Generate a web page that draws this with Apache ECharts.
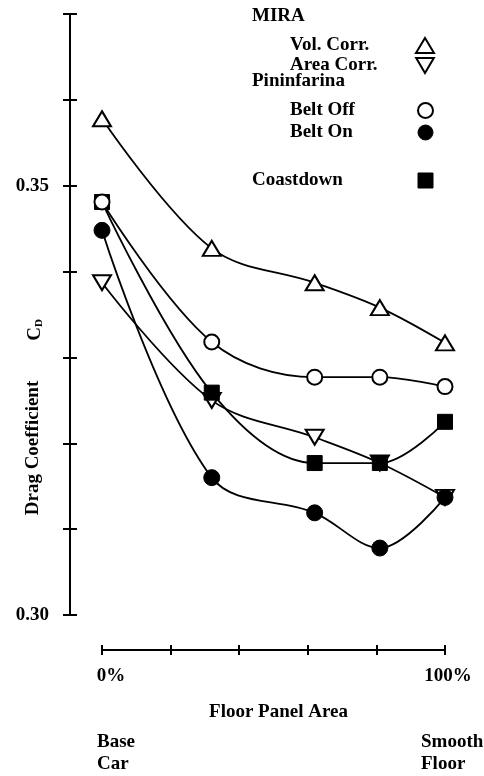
<!DOCTYPE html>
<html>
<head>
<meta charset="utf-8">
<script src="https://cdn.jsdelivr.net/npm/echarts@6/dist/echarts.min.js"></script>
<style>
html,body{margin:0;padding:0;background:#fff;}
#c{width:484px;height:776px;}
</style>
</head>
<body>
<div id="c"></div>
<script>
// ---- data ----
const floorPanelPct = [0, 32, 62, 81, 100];
const miraVolCorr = [0.3578, 0.3427, 0.3387, 0.3358, 0.3317];
const miraAreaCorr = [0.3387, 0.3250, 0.3207, 0.3177, 0.3137];
const pininBeltOff = [0.3481, 0.3318, 0.3277, 0.3277, 0.3266];
const pininBeltOn = [0.3448, 0.3160, 0.3119, 0.3078, 0.3137];
const coastdown = [0.3481, 0.3259, 0.3177, 0.3177, 0.3225];
const yTickLabels = ['0.30', '0.35'];
const xTickLabels = { 0: '0%', 100: '100%' };

const FONT = '"Liberation Serif", "DejaVu Serif", serif';
const FS = 19;
const pairs = arr => floorPanelPct.map((x, i) => [x, arr[i]]);
const downTri = 'path://M0,0 L20,0 L10,17 Z';

const chart = echarts.init(document.getElementById('c'), null, { renderer: 'canvas' });

const lineBase = {
  type: 'line',
  smooth: 0.35,
  lineStyle: { color: '#000', width: 1.8 },
  emphasis: { disabled: true },
  silent: true
};
const openStyle = { color: '#fff', borderColor: '#000', borderWidth: 2 };
const fillStyle = { color: '#000', borderColor: '#000', borderWidth: 1 };

function legendTextStyle(w) {
  return {
    color: '#000',
    rich: { t: { fontFamily: FONT, fontWeight: 'bold', fontSize: FS, color: '#000', width: w, align: 'left', lineHeight: 20 } }
  };
}
const legendFmt = name => '{t|' + name + '}';
const axisLineStyle = { color: '#000', width: 2 };

const option = {
  backgroundColor: '#fff',
  animation: false,
  grid: { left: 102, right: 39, top: 14, bottom: 161 },
  xAxis: [
    {
      type: 'value', min: 0, max: 100, interval: 20, offset: 35, position: 'bottom',
      axisLine: { onZero: false, lineStyle: axisLineStyle },
      axisTick: { show: true, inside: false, length: 5, lineStyle: axisLineStyle },
      splitLine: { show: false },
      axisLabel: {
        margin: 17,
        formatter: v => xTickLabels[v] !== undefined ? (v === 0 ? '{a|' + xTickLabels[v] + '}' : '{b|' + xTickLabels[v] + '}') : '',
        rich: {
          a: { fontFamily: FONT, fontWeight: 'bold', fontSize: FS, color: '#000', padding: [0, 0, 0, 18] },
          b: { fontFamily: FONT, fontWeight: 'bold', fontSize: FS, color: '#000', padding: [0, 0, 0, 6] }
        }
      },
      name: 'Floor Panel Area', nameLocation: 'middle', nameGap: 53,
      nameTextStyle: { fontFamily: FONT, fontWeight: 'bold', fontSize: FS, color: '#000', padding: [0, 0, 0, 10] }
    },
    {
      type: 'value', min: 0, max: 100, interval: 20, offset: 35, position: 'bottom',
      axisLine: { show: true, onZero: false, lineStyle: axisLineStyle },
      axisTick: { show: true, inside: true, length: 5, lineStyle: axisLineStyle },
      splitLine: { show: false },
      axisLabel: { show: false }
    }
  ],
  yAxis: [
    {
      type: 'value', min: 0.30, max: 0.37, interval: 0.01, offset: 32, position: 'left',
      axisLine: { show: true, onZero: false, lineStyle: axisLineStyle },
      axisTick: { show: true, inside: false, length: 7, lineStyle: axisLineStyle },
      splitLine: { show: false },
      axisLabel: {
        margin: 21,
        fontFamily: FONT, fontWeight: 'bold', fontSize: FS, color: '#000',
        formatter: v => { const s = v.toFixed(2); return yTickLabels.indexOf(s) >= 0 ? s : ''; }
      }
    },
    {
      type: 'value', min: 0.30, max: 0.37, interval: 0.01, offset: 32, position: 'left',
      axisLine: { show: true, onZero: false, lineStyle: axisLineStyle },
      axisTick: { show: true, inside: true, length: 7, lineStyle: axisLineStyle },
      splitLine: { show: false },
      axisLabel: { show: false }
    }
  ],
  legend: [
    {
      left: 290, top: 36, orient: 'vertical', align: 'right', itemGap: 1, padding: 0,
      itemWidth: 18, itemHeight: 15, selectedMode: false,
      formatter: legendFmt, textStyle: legendTextStyle(121),
      data: [
        { name: 'Vol. Corr.', icon: 'triangle', itemStyle: openStyle },
        { name: 'Area Corr.', icon: downTri, itemStyle: openStyle }
      ]
    },
    {
      left: 290, top: 101, orient: 'vertical', align: 'right', itemGap: 3, padding: 0,
      itemWidth: 15, itemHeight: 15, selectedMode: false,
      formatter: legendFmt, textStyle: legendTextStyle(123),
      data: [
        { name: 'Belt Off', icon: 'circle', itemStyle: openStyle },
        { name: 'Belt On', icon: 'circle', itemStyle: fillStyle }
      ]
    },
    {
      left: 252, top: 171, orient: 'vertical', align: 'right', itemGap: 0, padding: 0,
      itemWidth: 15, itemHeight: 15, selectedMode: false,
      formatter: legendFmt, textStyle: legendTextStyle(161),
      data: [
        { name: 'Coastdown', icon: 'rect', itemStyle: fillStyle }
      ]
    }
  ],
  graphic: [
    { type: 'text', left: 252, top: 7, style: { text: 'MIRA', font: 'bold ' + FS + 'px ' + FONT, fill: '#000' } },
    { type: 'text', left: 252, top: 72, style: { text: 'Pininfarina', font: 'bold ' + FS + 'px ' + FONT, fill: '#000' } },
    { type: 'text', left: 97, top: 731, style: { text: 'Base\nCar', font: 'bold ' + FS + 'px ' + FONT, fill: '#000', lineHeight: 22 } },
    { type: 'text', left: 421, top: 731, style: { text: 'Smooth\nFloor', font: 'bold ' + FS + 'px ' + FONT, fill: '#000', lineHeight: 22 } },
    {
      type: 'text', x: 33, y: 448, rotation: Math.PI / 2,
      style: { text: 'Drag Coefficient', font: 'bold 19px ' + FONT, fill: '#000', align: 'center', verticalAlign: 'middle' }
    },
    {
      type: 'text', x: 35, y: 330, rotation: Math.PI / 2,
      style: {
        text: '{c|C}{d|D}', align: 'center', verticalAlign: 'middle',
        rich: {
          c: { font: 'bold 19px ' + FONT, fill: '#000' },
          d: { font: 'bold 11px ' + FONT, fill: '#000', padding: [8, 0, 0, 0] }
        }
      }
    }
  ],
  series: [
    Object.assign({}, lineBase, { name: 'Vol. Corr.', data: pairs(miraVolCorr), symbol: 'triangle', symbolSize: [18, 15], itemStyle: openStyle }),
    Object.assign({}, lineBase, { name: 'Area Corr.', data: pairs(miraAreaCorr), symbol: downTri, symbolSize: [18, 15], itemStyle: openStyle }),
    Object.assign({}, lineBase, { name: 'Coastdown', data: pairs(coastdown), symbol: 'rect', symbolSize: 15, itemStyle: fillStyle }),
    Object.assign({}, lineBase, { name: 'Belt Off', data: pairs(pininBeltOff), symbol: 'circle', symbolSize: 15, itemStyle: openStyle }),
    Object.assign({}, lineBase, { name: 'Belt On', data: pairs(pininBeltOn), symbol: 'circle', symbolSize: 16, itemStyle: fillStyle })
  ]
};
chart.setOption(option);
</script>
</body>
</html>
